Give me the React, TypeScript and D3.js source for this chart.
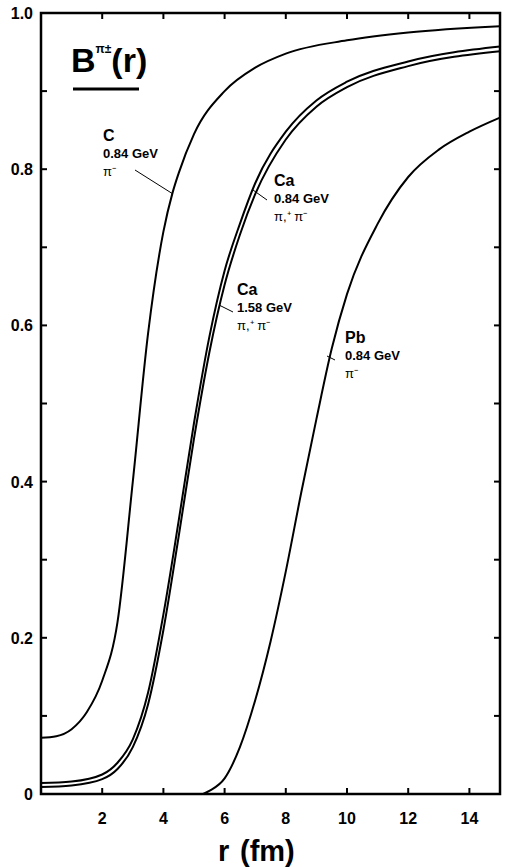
import React, { useEffect, useRef } from 'react';
import * as d3 from 'd3';

// curve C, 0.84 GeV, pi-
const cR = [0, 0.5, 1, 1.5, 2, 2.5, 3, 3.5, 4, 4.3, 4.5, 5, 6, 7, 8, 10, 12, 15];
const cB = [0.072, 0.074, 0.083, 0.105, 0.145, 0.22, 0.4, 0.59, 0.72, 0.77, 0.795, 0.845, 0.9, 0.93, 0.948, 0.965, 0.975, 0.983];

// Ca 0.84 GeV pi+ pi-
const ca84R = [0, 1, 2, 2.5, 3, 3.5, 4, 4.5, 5, 5.5, 6, 6.5, 7, 8, 9, 10, 12, 15];
const ca84B = [0.014, 0.016, 0.025, 0.04, 0.07, 0.13, 0.23, 0.35, 0.475, 0.585, 0.67, 0.73, 0.782, 0.848, 0.888, 0.912, 0.938, 0.957];

// Ca 1.58 GeV pi+ pi-
const ca158R = [0, 1, 2, 2.5, 3, 3.5, 4, 4.5, 5, 5.5, 6, 6.5, 7, 8, 9, 10, 12, 15];
const ca158B = [0.009, 0.011, 0.019, 0.032, 0.06, 0.115, 0.21, 0.33, 0.455, 0.565, 0.652, 0.716, 0.768, 0.838, 0.88, 0.905, 0.932, 0.951];

// Pb 0.84 GeV pi-
const pbR = [5.3, 5.5, 6, 6.5, 7, 7.5, 8, 8.5, 9, 9.5, 10, 11, 12, 13, 14, 15];
const pbB = [0, 0.004, 0.02, 0.06, 0.12, 0.195, 0.285, 0.385, 0.48, 0.57, 0.64, 0.73, 0.79, 0.825, 0.848, 0.866];

const xTicks = [2, 4, 6, 8, 10, 12, 14];
const yLabels = ['0', '0.2', '0.4', '0.6', '0.8', '1.0'];

const FONT = '"Liberation Sans", Arial, sans-serif';

const App = () => {
  const ref = useRef<SVGSVGElement>(null);

  useEffect(() => {
    const svg = d3.select(ref.current);
    svg.selectAll('*').remove();

    const left = 41, right = 500, top = 13, bottom = 794;
    const x = d3.scaleLinear().domain([0, 15]).range([left, right]);
    const y = d3.scaleLinear().domain([0, 1]).range([bottom, top]);

    // frame
    svg.append('rect')
      .attr('x', left).attr('y', top)
      .attr('width', right - left).attr('height', bottom - top)
      .attr('fill', 'none').attr('stroke', '#000').attr('stroke-width', 2.5);

    // ticks, pointing inward
    const tk = 6;
    xTicks.forEach((t) => {
      svg.append('line').attr('x1', x(t)).attr('x2', x(t)).attr('y1', bottom).attr('y2', bottom - tk)
        .attr('stroke', '#000').attr('stroke-width', 2);
      svg.append('line').attr('x1', x(t)).attr('x2', x(t)).attr('y1', top).attr('y2', top + tk)
        .attr('stroke', '#000').attr('stroke-width', 2);
      svg.append('text').attr('x', x(t)).attr('y', 824)
        .attr('text-anchor', 'middle').style('font-family', FONT)
        .style('font-size', '16px').style('font-weight', 'bold').text(t);
    });
    d3.range(1, 10).forEach((i) => {
      const v = i / 10;
      svg.append('line').attr('x1', left).attr('x2', left + tk).attr('y1', y(v)).attr('y2', y(v))
        .attr('stroke', '#000').attr('stroke-width', 2);
      svg.append('line').attr('x1', right).attr('x2', right - tk).attr('y1', y(v)).attr('y2', y(v))
        .attr('stroke', '#000').attr('stroke-width', 2);
    });
    yLabels.forEach((l) => {
      svg.append('text').attr('x', 33).attr('y', y(+l) + 6)
        .attr('text-anchor', 'end').style('font-family', FONT)
        .style('font-size', '16px').style('font-weight', 'bold').text(l);
    });

    // axis title
    const ax = svg.append('text').attr('y', 861)
      .style('font-family', FONT).style('font-size', '29px').style('font-weight', 'bold');
    ax.append('tspan').attr('x', 218).text('r');
    ax.append('tspan').attr('x', 240).text('(fm)');

    // curves
    const line = d3.line<[number, number]>()
      .x((d) => x(d[0])).y((d) => y(d[1]))
      .curve(d3.curveMonotoneX);
    const series: [number[], number[]][] = [[cR, cB], [ca84R, ca84B], [ca158R, ca158B], [pbR, pbB]];
    series.forEach(([rs, bs]) => {
      svg.append('path')
        .attr('d', line(rs.map((r, i) => [r, bs[i]] as [number, number])))
        .attr('fill', 'none').attr('stroke', '#000').attr('stroke-width', 2);
    });

    // title B^{pi±}(r)
    const title = svg.append('text').attr('x', 71).attr('y', 72)
      .style('font-family', FONT).style('font-weight', 'bold');
    title.append('tspan').style('font-size', '34px').text('B');
    title.append('tspan').attr('dy', -19).style('font-size', '12px').text('π±');
    title.append('tspan').attr('dy', 19).style('font-size', '34px').text('(r)');
    svg.append('line').attr('x1', 73).attr('x2', 139).attr('y1', 89).attr('y2', 89)
      .attr('stroke', '#000').attr('stroke-width', 3);

    // curve labels
    const label = (lx: number, ly: number, name: string, energy: string, pion: string) => {
      const g = svg.append('g').style('font-family', FONT).attr('fill', '#000');
      g.append('text').attr('x', lx).attr('y', ly).style('font-size', '16px')
        .style('font-weight', 'bold').text(name);
      g.append('text').attr('x', lx).attr('y', ly + 17).style('font-size', '13px')
        .style('font-weight', 'bold').text(energy);
      g.append('text').attr('x', lx).attr('y', ly + 35).style('font-size', '13px').text(pion);
    };
    label(103, 141, 'C', '0.84 GeV', 'π⁻');
    label(274, 186, 'Ca', '0.84 GeV', 'π,⁺ π⁻');
    label(237, 295, 'Ca', '1.58 GeV', 'π,⁺ π⁻');
    label(345, 343, 'Pb', '0.84 GeV', 'π⁻');

    // pointers
    const ptr = (x1: number, y1: number, x2: number, y2: number) => {
      svg.append('line').attr('x1', x1).attr('y1', y1).attr('x2', x2).attr('y2', y2)
        .attr('stroke', '#000').attr('stroke-width', 1);
    };
    ptr(135, 170, 173, 194);
    ptr(253, 190, 267, 200);
    ptr(219, 305, 233, 312);
    ptr(327, 356, 335, 360);
  }, []);

  return (
    <svg ref={ref} width={507} height={867}
      style={{ position: 'absolute', left: 0, top: 0, background: '#fff' }} />
  );
};

export default App;
